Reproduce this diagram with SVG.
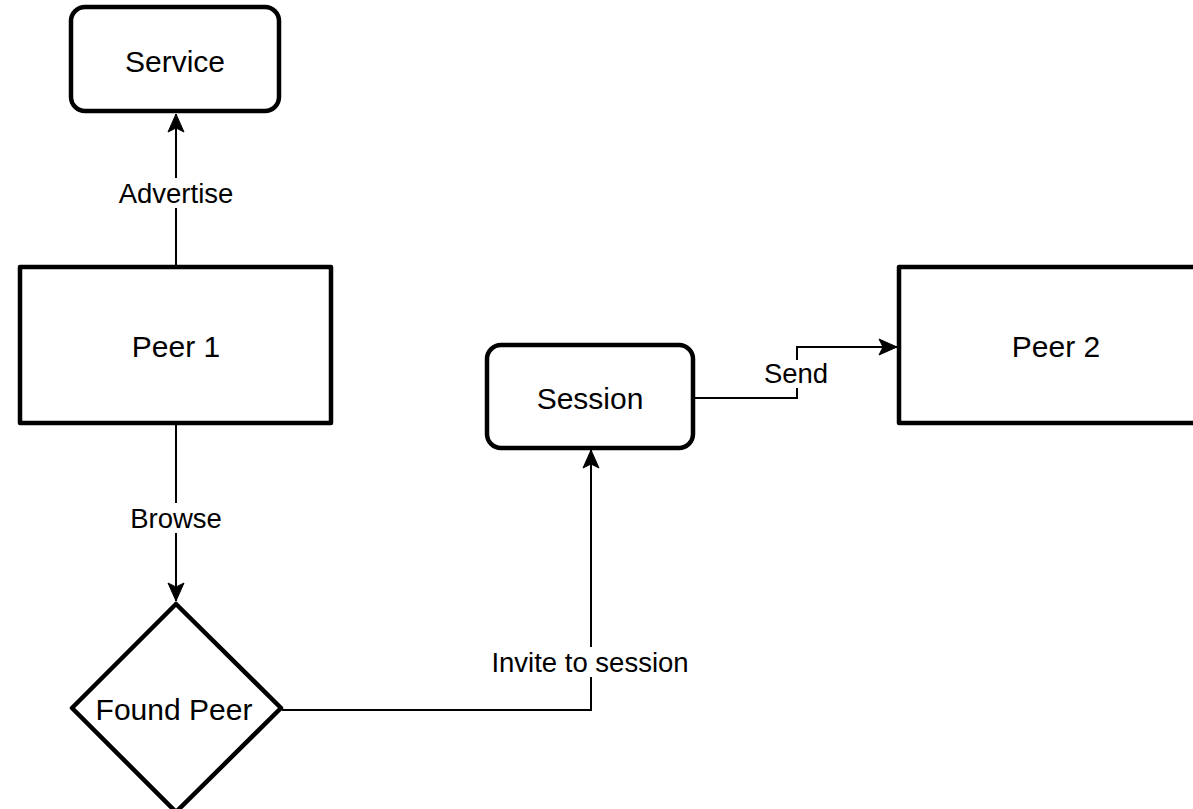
<svg xmlns="http://www.w3.org/2000/svg" width="1193" height="809" viewBox="0 0 1193 809">
<style>
.node{fill:#fff;stroke:#000;stroke-width:4.5;stroke-linejoin:round}
.ntxt{font-family:"Liberation Sans",Arial,sans-serif;font-size:30px;fill:#000;text-anchor:middle}
.ltxt{font-family:"Liberation Sans",Arial,sans-serif;font-size:27.5px;fill:#000;text-anchor:middle}
.edge{fill:none;stroke:#000;stroke-width:2}
.lbg{fill:#fff}
</style>
<defs>
<marker id="arr" markerUnits="userSpaceOnUse" markerWidth="20" markerHeight="20" viewBox="0 0 20 20" refX="19" refY="10" orient="auto">
<path d="M1,2 L19,10 L1,18 L5,10 z" fill="#000" stroke="#000" stroke-width="1"/>
</marker>
</defs>
<rect width="1193" height="809" fill="#fff"/>
<g id="connectors">
<path class="edge" d="M176,267 L176,114" marker-end="url(#arr)"/>
<path class="edge" d="M176,423 L176,601" marker-end="url(#arr)"/>
<path class="edge" d="M282,710 L591,710 L591,450" marker-end="url(#arr)"/>
<path class="edge" d="M693,398 L797,398 L797,347 L897,347" marker-end="url(#arr)"/>
<rect class="lbg" x="115" y="178" width="122" height="30"/>
<text class="ltxt" x="176" y="203">Advertise</text>
<rect class="lbg" x="128" y="503" width="97" height="30"/>
<text class="ltxt" x="176" y="528">Browse</text>
<rect class="lbg" x="487" y="647" width="207" height="30"/>
<text class="ltxt" x="590" y="672">Invite to session</text>
<rect class="lbg" x="762" y="360" width="68" height="28"/>
<text class="ltxt" x="796" y="383">Send</text>
</g>
<g id="service">
<rect class="node" x="71" y="7" width="208" height="104" rx="14"/>
<text class="ntxt" x="175" y="72">Service</text>
</g>
<g id="peer1">
<rect class="node" x="20" y="267" width="311" height="156"/>
<text class="ntxt" x="176" y="357">Peer 1</text>
</g>
<g id="session">
<rect class="node" x="487" y="345" width="206" height="103" rx="14"/>
<text class="ntxt" x="590" y="409">Session</text>
</g>
<g id="peer2">
<rect class="node" x="899" y="267" width="313" height="156"/>
<text class="ntxt" x="1056" y="357">Peer 2</text>
</g>
<g id="foundpeer">
<polygon class="node" points="176,604 281,708 176,812 72,708"/>
<text class="ntxt" x="174" y="720">Found Peer</text>
</g>
</svg>
